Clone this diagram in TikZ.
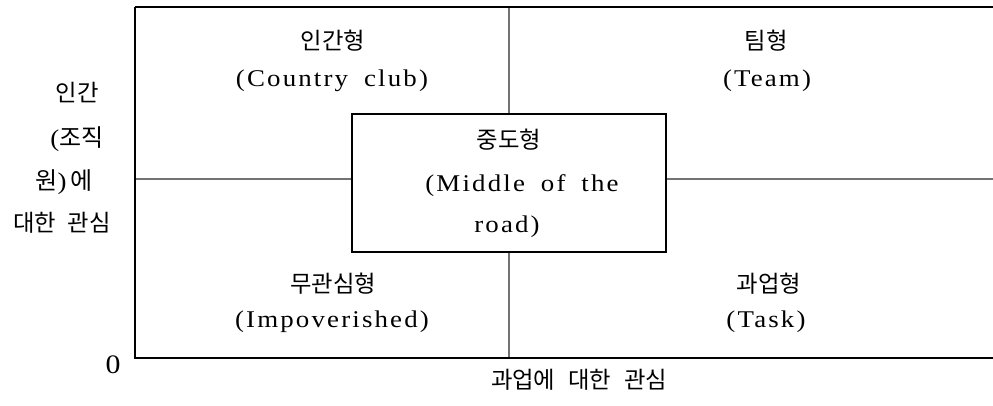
\documentclass[tikz,border=0pt]{standalone}
\usepackage{fontspec}
\setmainfont{Liberation Serif}[LetterSpace=9,FakeStretch=1.12,WordSpace=1.8]
\newfontfamily\ko{Noto Sans CJK KR}[LetterSpace=0]
\begin{document}
\begin{tikzpicture}[x=0.75pt,y=-0.75pt,
  lat/.style={font=\fontsize{18}{21}\selectfont, inner sep=0},
  kor/.style={font=\fontsize{17.5}{20}\selectfont\ko, inner sep=0},
  axisline/.style={line width=1.6pt, black},
  gridline/.style={line width=1.1pt, black!55},
  topline/.style={line width=0.9pt, black},
  midbox/.style={draw=black, line width=0.8pt, fill=white, inner sep=0,
    minimum width=235.5pt, minimum height=103.5pt}
]
\useasboundingbox (0,0) rectangle (993,405);
\coordinate (TL) at (135,7);
\coordinate (BL) at (135,358);
\coordinate (BR) at (993,358);
\coordinate (TR) at (993,7);
\coordinate (vt) at (509,7);
\coordinate (vb) at (509,358);
\coordinate (hl) at (135,179);
\coordinate (hr) at (993,179);
% grid lines
\draw[gridline] (hl) -- (hr);
\draw[gridline] (vt) -- (vb);
% middle box
\node[midbox] (mid) at (509,183) {};
% frame
\draw[topline] (TL) -- (TR);
\draw[axisline] (TL) -- (BL) -- (BR);
% quadrant texts
\node[kor] (ccK) at (333,41) {인간형};
\node[lat] (ccE) at (332,81) {(Country club)};
\node[kor] (tmK) at (766,41) {팀형};
\node[lat] (tmE) at (767,81) {(Team)};
\node[kor] (mdK) at (509,140) {중도형};
\node[lat] (mdE1) at (522,186) {(Middle of the};
\node[lat] (mdE2) at (507,227) {road)};
\node[kor] (imK) at (333,284) {무관심형};
\node[lat] (imE) at (332,322) {(Impoverished)};
\node[kor] (tkK) at (769,284) {과업형};
\node[lat] (tkE) at (766,322) {(Task)};
% axis labels
\node[kor] (y1) at (77,93) {인간};
\node[lat] (y2) at (77,139) {({\ko 조직}};
\node[lat] (y3) at (64,182) {{\ko 원})\,{\ko 에}};
\node[kor] (y4) at (62,223) {대한\hspace{0.5em}관심};
\node[lat,font=\fontsize{20}{22}\selectfont] (zero) at (113,365) {0};
\node[kor] (xl) at (579,380) {과업에\hspace{0.55em}대한\hspace{0.55em}관심};
\end{tikzpicture}
\end{document}
